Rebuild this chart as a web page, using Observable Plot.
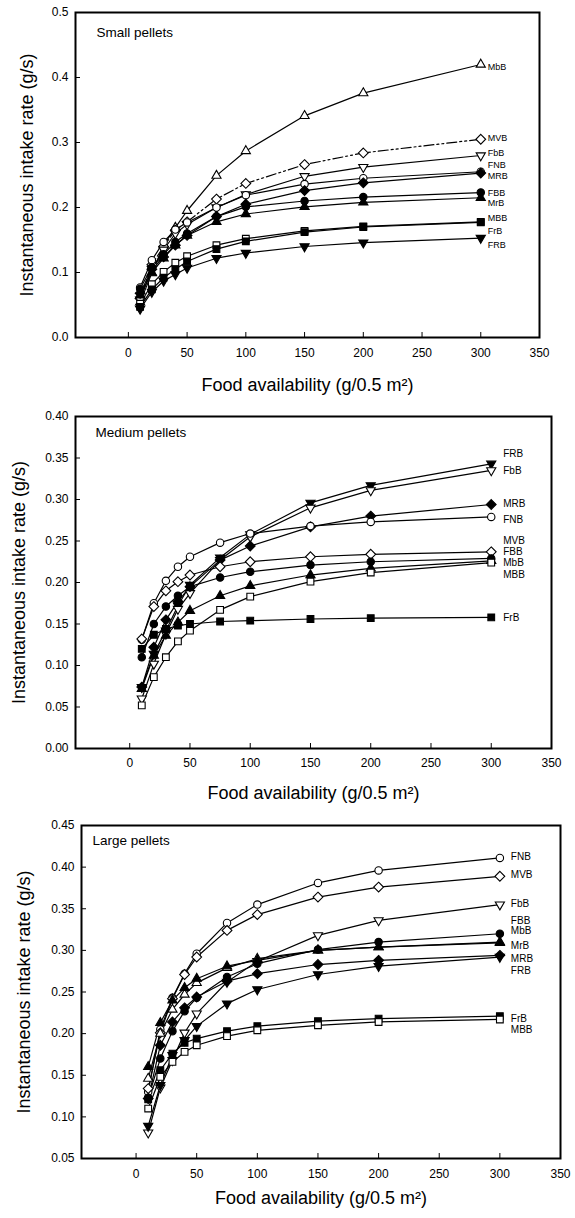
<!DOCTYPE html>
<html><head><meta charset="utf-8">
<script src="https://cdn.jsdelivr.net/npm/d3@7"></script>
<script src="https://cdn.jsdelivr.net/npm/@observablehq/plot@0.6"></script>
<style>
body{margin:0;background:#fff;}
#chart svg{display:block;}
</style></head><body><div id="chart"></div>
<script>
// ---------- data ----------
const food = [10, 20, 30, 40, 50, 75, 100, 150, 200, 300];
const xTicks = [0, 50, 100, 150, 200, 250, 300, 350];
const xTitle = "Food availability (g/0.5 m²)";
const yTitle = "Instantaneous intake rate (g/s)";

// Small pellets
const smallTitle = "Small pellets";
const smallYTicks = [0, 0.1, 0.2, 0.3, 0.4, 0.5];
const smallSeries = ["MbB", "MVB", "FbB", "FNB", "MRB", "FBB", "MrB", "MBB", "FrB", "FRB"];
const smallValues = [
  [0.054, 0.099, 0.142, 0.169, 0.195, 0.249, 0.287, 0.341, 0.376, 0.420],
  [0.060, 0.112, 0.140, 0.165, 0.178, 0.213, 0.237, 0.266, 0.284, 0.305],
  [0.058, 0.105, 0.135, 0.160, 0.174, 0.200, 0.220, 0.248, 0.262, 0.280],
  [0.077, 0.119, 0.147, 0.166, 0.177, 0.200, 0.219, 0.236, 0.245, 0.255],
  [0.068, 0.105, 0.124, 0.142, 0.157, 0.186, 0.205, 0.226, 0.238, 0.253],
  [0.075, 0.108, 0.128, 0.147, 0.160, 0.186, 0.201, 0.210, 0.216, 0.223],
  [0.065, 0.100, 0.122, 0.142, 0.157, 0.178, 0.190, 0.201, 0.208, 0.215],
  [0.052, 0.082, 0.101, 0.115, 0.125, 0.142, 0.152, 0.164, 0.171, 0.178],
  [0.047, 0.074, 0.092, 0.105, 0.117, 0.136, 0.148, 0.162, 0.170, 0.177],
  [0.044, 0.070, 0.087, 0.097, 0.107, 0.122, 0.130, 0.140, 0.146, 0.153]
];
const smallLabels = ["MbB", "MVB", "FbB", "FNB", "MRB", "FBB", "MrB", "MBB", "FrB", "FRB"];
const smallLabelY = [0.416, 0.306, 0.284, 0.265, 0.248, 0.222, 0.207, 0.184, 0.163, 0.142];

// Medium pellets
const mediumTitle = "Medium pellets";
const mediumYTicks = [0, 0.05, 0.10, 0.15, 0.20, 0.25, 0.30, 0.35, 0.40];
const mediumSeries = ["FRB", "FbB", "MRB", "FNB", "MVB", "FBB", "MrB", "MBB", "FrB"];
const mediumValues = [
  [0.074, 0.114, 0.142, 0.172, 0.197, 0.230, 0.258, 0.296, 0.317, 0.343],
  [0.060, 0.102, 0.138, 0.168, 0.187, 0.227, 0.255, 0.290, 0.311, 0.335],
  [0.074, 0.122, 0.155, 0.177, 0.195, 0.227, 0.244, 0.267, 0.280, 0.294],
  [0.131, 0.175, 0.202, 0.219, 0.231, 0.248, 0.259, 0.268, 0.273, 0.279],
  [0.132, 0.171, 0.190, 0.201, 0.209, 0.219, 0.225, 0.231, 0.234, 0.237],
  [0.110, 0.150, 0.171, 0.184, 0.195, 0.206, 0.213, 0.221, 0.225, 0.229],
  [0.072, 0.112, 0.136, 0.152, 0.166, 0.184, 0.196, 0.209, 0.217, 0.226],
  [0.052, 0.086, 0.110, 0.129, 0.142, 0.167, 0.183, 0.201, 0.212, 0.224],
  [0.120, 0.137, 0.144, 0.148, 0.150, 0.153, 0.154, 0.156, 0.157, 0.158]
];
const mediumLabels = ["FRB", "FbB", "MRB", "FNB", "MVB", "FBB", "MbB", "MBB", "FrB"];
const mediumLabelY = [0.355, 0.335, 0.295, 0.276, 0.250, 0.237, 0.224, 0.209, 0.158];

// Large pellets
const largeTitle = "Large pellets";
const largeYTicks = [0.05, 0.10, 0.15, 0.20, 0.25, 0.30, 0.35, 0.40, 0.45];
const largeSeries = ["FNB", "MVB", "FbB", "FBB", "MbB", "MrB", "MRB", "FRB", "FrB", "MBB"];
const largeValues = [
  [0.130, 0.205, 0.243, 0.272, 0.296, 0.333, 0.355, 0.381, 0.396, 0.411],
  [0.134, 0.201, 0.242, 0.271, 0.292, 0.324, 0.343, 0.364, 0.376, 0.389],
  [0.081, 0.135, 0.168, 0.201, 0.224, 0.262, 0.287, 0.318, 0.336, 0.355],
  [0.123, 0.170, 0.203, 0.227, 0.243, 0.268, 0.284, 0.301, 0.310, 0.320],
  [0.146, 0.200, 0.229, 0.247, 0.261, 0.279, 0.290, 0.300, 0.304, 0.310],
  [0.160, 0.213, 0.240, 0.255, 0.266, 0.281, 0.288, 0.300, 0.304, 0.309],
  [0.122, 0.186, 0.214, 0.231, 0.244, 0.263, 0.272, 0.283, 0.288, 0.294],
  [0.089, 0.138, 0.174, 0.192, 0.209, 0.236, 0.253, 0.271, 0.281, 0.292],
  [0.121, 0.156, 0.176, 0.189, 0.194, 0.203, 0.209, 0.215, 0.218, 0.221],
  [0.110, 0.148, 0.166, 0.178, 0.186, 0.197, 0.204, 0.210, 0.214, 0.217]
];
const largeLabels = ["FNB", "MVB", "FbB", "FBB", "MbB", "MrB", "MRB", "FRB", "FrB", "MBB"];
const largeLabelY = [0.413, 0.391, 0.356, 0.335, 0.323, 0.305, 0.290, 0.276, 0.218, 0.205];

// ---------- marker styles ----------
const triangleDown = {
  draw(context, size) {
    const y = -Math.sqrt(size / (Math.sqrt(3) * 3));
    context.moveTo(0, -y * 2);
    context.lineTo(-Math.sqrt(3) * y, y);
    context.lineTo(Math.sqrt(3) * y, y);
    context.closePath();
  }
};
const markers = {
  MbB: {symbol: "triangle", fill: "white", r: 3.4},
  MVB: {symbol: "diamond2", fill: "white", r: 4.4},
  FbB: {symbol: triangleDown, fill: "white", r: 3.4},
  FNB: {symbol: "circle", fill: "white", r: 3.7},
  MRB: {symbol: "diamond2", fill: "black", r: 4.4},
  FBB: {symbol: "circle", fill: "black", r: 3.7},
  MrB: {symbol: "triangle", fill: "black", r: 3.4},
  MBB: {symbol: "square", fill: "white", r: 3.8},
  FrB: {symbol: "square", fill: "black", r: 3.8},
  FRB: {symbol: triangleDown, fill: "black", r: 3.4}
};

function panel(cfg) {
  const marks = [];
  cfg.series.forEach((name, k) => {
    const vals = cfg.values[k];
    marks.push(Plot.line(vals, {
      x: (d, i) => food[i], y: d => d, stroke: "black", strokeWidth: 1.2,
      strokeDasharray: cfg.dashed === name ? "10,3,2,3,2,3" : null
    }));
  });
  cfg.series.forEach((name, k) => {
    const vals = cfg.values[k];
    const m = markers[name];
    marks.push(Plot.dot(vals, {
      x: (d, i) => food[i], y: d => d, symbol: m.symbol, r: m.r,
      fill: m.fill, stroke: "black", strokeWidth: 1.1
    }));
  });
  marks.push(Plot.text(cfg.labels, {
    x: () => food[food.length - 1], y: (d, i) => cfg.labelY[i], text: d => d,
    textAnchor: "start", dx: cfg.labelDx, fontSize: cfg.labelSize
  }));
  marks.push(Plot.text([cfg.title], {
    frameAnchor: "top-left", dx: cfg.titleDx, dy: cfg.titleDy, textAnchor: "start",
    lineAnchor: "middle", fontSize: 13.5
  }));
  marks.push(Plot.axisX({ticks: xTicks, tickSize: -5, tickPadding: cfg.xPad, fontSize: 12, label: null, tickFormat: d => String(d)}));
  marks.push(Plot.axisY({ticks: cfg.yTicks, tickSize: -5, tickPadding: 12, fontSize: 12, label: null, tickFormat: d => d.toFixed(cfg.digits)}));
  marks.push(Plot.text([xTitle], {frameAnchor: "bottom", dy: cfg.xTitleDy, lineAnchor: "middle", textAnchor: "middle", fontSize: 18}));
  marks.push(Plot.text([yTitle], {frameAnchor: "left", dx: cfg.yTitleDx, rotate: -90, lineAnchor: "middle", textAnchor: "middle", fontSize: 18}));
  marks.push(Plot.frame({stroke: "black", strokeWidth: 2}));
  return Plot.plot({
    width: 575, height: cfg.height,
    marginTop: cfg.mt, marginBottom: cfg.mb, marginLeft: cfg.ml, marginRight: cfg.mr,
    x: {domain: [-45, 350]},
    y: {domain: cfg.yDomain},
    style: {fontFamily: "'Liberation Sans', Arial, Helvetica, sans-serif", fontSize: "12px", background: "white", color: "black", overflow: "visible"},
    marks
  });
}

const chart = document.getElementById("chart");
chart.append(panel({
  title: smallTitle, series: smallSeries, values: smallValues, labels: smallLabels, labelY: smallLabelY,
  yTicks: smallYTicks, digits: 1, yDomain: [0, 0.5], dashed: "MVB",
  height: 400, mt: 12, mb: 63, ml: 75, mr: 36, labelDx: 7, labelSize: 9,
  titleDx: 21, titleDy: 20, xPad: 16, xTitleDy: 48, yTitleDx: -48
}));
chart.append(panel({
  title: mediumTitle, series: mediumSeries, values: mediumValues, labels: mediumLabels, labelY: mediumLabelY,
  yTicks: mediumYTicks, digits: 2, yDomain: [0, 0.4], dashed: null,
  height: 400, mt: 16, mb: 52, ml: 75, mr: 24, labelDx: 12, labelSize: 10,
  titleDx: 20, titleDy: 16, xPad: 15, xTitleDy: 45, yTitleDx: -56
}));
chart.append(panel({
  title: largeTitle, series: largeSeries, values: largeValues, labels: largeLabels, labelY: largeLabelY,
  yTicks: largeYTicks, digits: 2, yDomain: [0.05, 0.45], dashed: null,
  height: 418, mt: 25, mb: 60, ml: 81, mr: 15, labelDx: 11, labelSize: 10,
  titleDx: 11, titleDy: 15, xPad: 16, xTitleDy: 40, yTitleDx: -57
}));
</script>
</body></html>
